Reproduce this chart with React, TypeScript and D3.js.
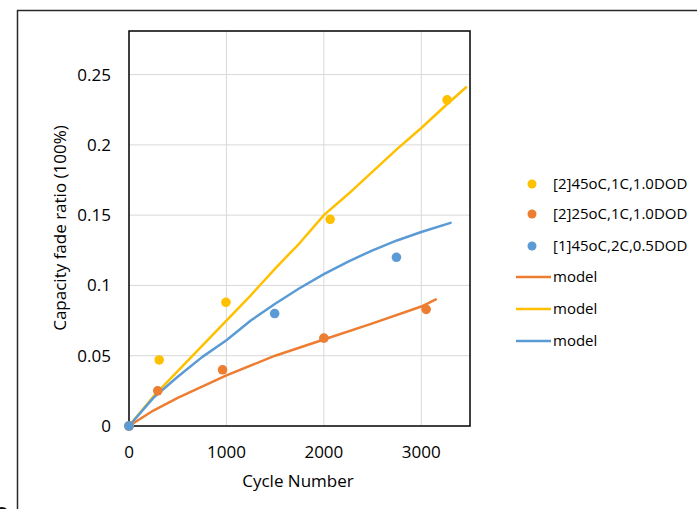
import React from "react";
import * as d3 from "d3";

// Measured capacity fade (cycle number, fade ratio)
const cycles45_1C = [0, 310, 995, 2065, 3265];
const fade45_1C = [0, 0.047, 0.088, 0.147, 0.232];
const cycles25_1C = [0, 295, 960, 2000, 3050];
const fade25_1C = [0, 0.025, 0.04, 0.0625, 0.083];
const cycles45_2C = [0, 1495, 2745];
const fade45_2C = [0, 0.08, 0.12];

// Model curves
const modelCycles25 = [0, 250, 500, 750, 1000, 1500, 2000, 2500, 3000, 3150];
const modelFade25 = [0, 0.011, 0.02, 0.028, 0.036, 0.05, 0.0615, 0.073, 0.085, 0.09];
const modelCycles45 = [0, 250, 500, 750, 1000, 1250, 1500, 1750, 2000, 2250, 2500, 2750, 3000, 3250, 3460];
const modelFade45 = [0, 0.021, 0.039, 0.057, 0.075, 0.093, 0.112, 0.13, 0.15, 0.165, 0.181, 0.197, 0.212, 0.228, 0.241];
const modelCycles45_2C = [0, 250, 500, 750, 1000, 1250, 1500, 1750, 2000, 2250, 2500, 2750, 3000, 3300];
const modelFade45_2C = [0, 0.02, 0.035, 0.049, 0.061, 0.075, 0.087, 0.098, 0.108, 0.117, 0.125, 0.132, 0.138, 0.1445];

const xTicks = [0, 1000, 2000, 3000];
const yTicks = [0, 0.05, 0.1, 0.15, 0.2, 0.25];
const yTickLabels = ["0", "0.05", "0.1", "0.15", "0.2", "0.25"];

const YELLOW = "#FFC000";
const ORANGE = "#ED7D31";
const BLUE = "#5B9BD5";
const FONT = "'Open Sans', sans-serif";

const pointSeries = [
  { name: "[2]45oC,1C,1.0DOD", xs: cycles45_1C, ys: fade45_1C, color: YELLOW },
  { name: "[2]25oC,1C,1.0DOD", xs: cycles25_1C, ys: fade25_1C, color: ORANGE },
  { name: "[1]45oC,2C,0.5DOD", xs: cycles45_2C, ys: fade45_2C, color: BLUE },
];
const lineSeries = [
  { name: "model", xs: modelCycles25, ys: modelFade25, color: ORANGE },
  { name: "model", xs: modelCycles45, ys: modelFade45, color: YELLOW },
  { name: "model", xs: modelCycles45_2C, ys: modelFade45_2C, color: BLUE },
];

export default function App() {
  const left = 129, right = 470, top = 31, bottom = 426;
  const x = d3.scaleLinear().domain([0, 3500]).range([left, right]);
  const y = d3.scaleLinear().domain([0, 0.281]).range([bottom, top]);
  const line = d3
    .line<[number, number]>()
    .x((d) => x(d[0]))
    .y((d) => y(d[1]));

  return (
    <svg
      width={697}
      height={509}
      style={{ position: "absolute", left: 0, top: 0, background: "#fff" }}
      fontFamily={FONT}
    >
      <rect x={0} y={0} width={697} height={509} fill="#fff" />
      {/* outer chart frame */}
      <path d="M17.5,515 V10.5 H705" fill="none" stroke="#2a2a2a" strokeWidth={1.5} />
      <circle cx={2} cy={514} r={7} fill="#111" />

      {/* gridlines */}
      {xTicks.slice(1).map((t) => (
        <line key={"gx" + t} x1={x(t)} x2={x(t)} y1={top} y2={bottom} stroke="#d9d9d9" strokeWidth={1} />
      ))}
      {yTicks.slice(1).map((t) => (
        <line key={"gy" + t} x1={left} x2={right} y1={y(t)} y2={y(t)} stroke="#d9d9d9" strokeWidth={1} />
      ))}

      {/* model lines */}
      {lineSeries.map((s, i) => (
        <path
          key={"l" + i}
          d={line(s.xs.map((v, j) => [v, s.ys[j]] as [number, number])) || ""}
          fill="none"
          stroke={s.color}
          strokeWidth={2.5}
          strokeLinejoin="round"
          strokeLinecap="round"
        />
      ))}

      {/* plot frame */}
      <rect x={left} y={top} width={right - left} height={bottom - top} fill="none" stroke="#000" strokeWidth={1.5} />

      {/* measured points */}
      {pointSeries.map((s, i) => (
        <g key={"p" + i}>
          {s.xs.map((v, j) => (
            <circle key={j} cx={x(v)} cy={y(s.ys[j])} r={4.8} fill={s.color} />
          ))}
        </g>
      ))}

      {/* axis tick labels */}
      {yTicks.map((t, i) => (
        <text key={"ty" + t} x={111} y={y(t)} dy="0.35em" textAnchor="end" fontSize={17} fill="#000">
          {yTickLabels[i]}
        </text>
      ))}
      {xTicks.map((t) => (
        <text key={"tx" + t} x={x(t)} y={452} dy="0.35em" textAnchor="middle" fontSize={17} fill="#000">
          {t}
        </text>
      ))}

      {/* axis titles */}
      <text x={298} y={481} dy="0.35em" textAnchor="middle" fontSize={17} fill="#000">
        Cycle Number
      </text>
      <text
        transform="translate(60,228) rotate(-90)"
        dy="0.35em"
        textAnchor="middle"
        fontSize={17}
        fill="#000"
      >
        Capacity fade ratio (100%)
      </text>

      {/* legend */}
      {pointSeries.map((s, i) => {
        const ly = [184, 214, 246][i];
        return (
          <g key={"lp" + i}>
            <circle cx={532} cy={ly} r={4.5} fill={s.color} />
            <text x={553} y={ly} dy="0.35em" fontSize={15} fill="#000">
              {s.name}
            </text>
          </g>
        );
      })}
      {lineSeries.map((s, i) => {
        const ly = [277, 309, 341][i];
        return (
          <g key={"ll" + i}>
            <line x1={516} x2={551} y1={ly} y2={ly} stroke={s.color} strokeWidth={2.5} />
            <text x={553} y={ly} dy="0.35em" fontSize={15} fill="#000">
              {s.name}
            </text>
          </g>
        );
      })}
    </svg>
  );
}
